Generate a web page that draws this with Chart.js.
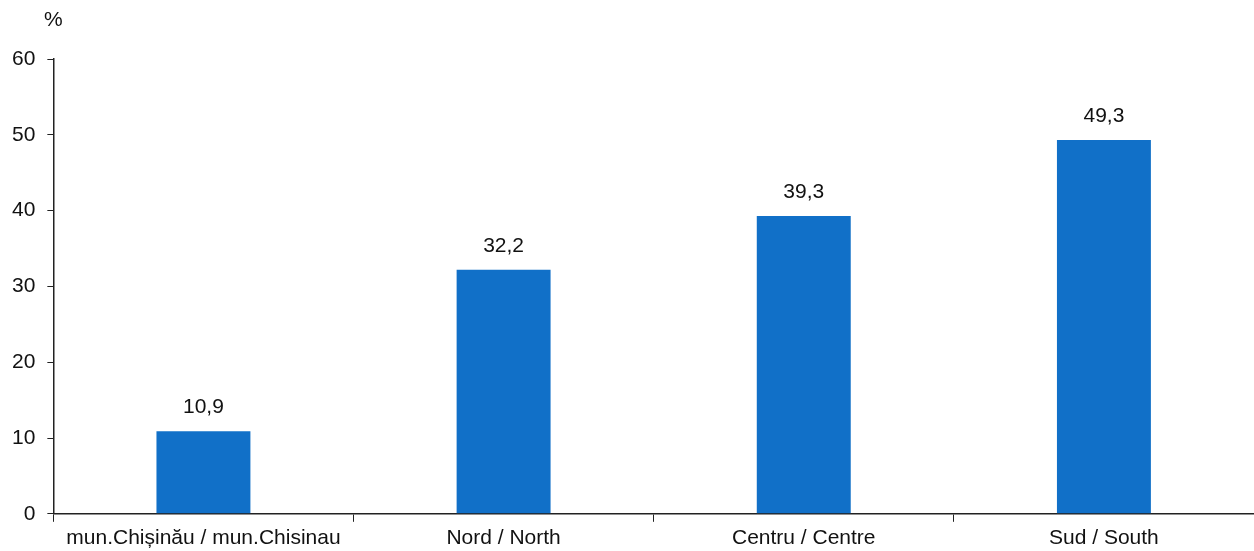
<!DOCTYPE html>
<html>
<head>
<meta charset="utf-8">
<script src="https://cdn.jsdelivr.net/npm/chart.js@4.4.0/dist/chart.umd.min.js"></script>
<style>
  html, body { margin: 0; padding: 0; background: #fff; }
  #wrap { width: 1254px; height: 551px; position: relative; }
</style>
</head>
<body>
<div id="wrap"><canvas id="myChart"></canvas></div>
<script>
// Regions and share (%)
const regions = ['mun.Chișinău / mun.Chisinau', 'Nord / North', 'Centru / Centre', 'Sud / South'];
const shares = [10.9, 32.2, 39.3, 49.3];
const yTicks = [0, 10, 20, 30, 40, 50, 60];

const fontFamily = 'Liberation Sans, Arial, sans-serif';

// Value labels above the bars, with a comma as decimal mark
const barLabels = {
    id: 'barLabels',
    afterDatasetsDraw(chart) {
        const ctx = chart.ctx;
        const meta = chart.getDatasetMeta(0);
        ctx.save();
        ctx.font = '21px ' + fontFamily;
        ctx.fillStyle = '#111';
        ctx.textAlign = 'center';
        ctx.textBaseline = 'bottom';
        meta.data.forEach((bar, i) => {
            ctx.fillText(shares[i].toFixed(1).replace('.', ','), bar.x, bar.y - 13);
        });
        // "%" unit above the y axis
        const yScale = chart.scales.y;
        ctx.textBaseline = 'middle';
        ctx.fillText('%', yScale.right, 20);
        ctx.restore();
    }
};

const ctx = document.getElementById('myChart').getContext('2d');
let myChart = new Chart(ctx, {
    type: 'bar',
    data: {
        labels: regions,
        datasets: [
            {
                data: shares,
                backgroundColor: '#1170C8',
                borderWidth: 0,
                categoryPercentage: 1,
                barPercentage: 0.313,
            },
        ],
    },
    options: {
        responsive: true,
        maintainAspectRatio: false,
        animation: false,
        layout: { padding: { top: 59, left: 0, right: 0, bottom: -4 } },
        plugins: {
            legend: { display: false },
            tooltip: { enabled: false },
        },
        scales: {
            x: {
                offset: true,
                grid: {
                    offset: true,
                    drawOnChartArea: false,
                    drawTicks: true,
                    tickLength: 8,
                    color: '#222',
                },
                border: { display: true, color: '#222', width: 1.5 },
                ticks: {
                    color: '#111',
                    font: { family: fontFamily, size: 21 },
                    padding: 4,
                    maxRotation: 0,
                    autoSkip: false,
                },
            },
            y: {
                min: 0,
                max: 60,
                afterBuildTicks(scale) {
                    scale.ticks = yTicks.map(v => ({ value: v }));
                },
                grid: {
                    drawOnChartArea: false,
                    drawTicks: true,
                    tickLength: 6,
                    color: '#222',
                },
                border: { display: true, color: '#222', width: 1.5 },
                ticks: {
                    color: '#111',
                    font: { family: fontFamily, size: 21 },
                    padding: 12,
                },
            },
        },
    },
    plugins: [barLabels],
});
</script>
</body>
</html>
